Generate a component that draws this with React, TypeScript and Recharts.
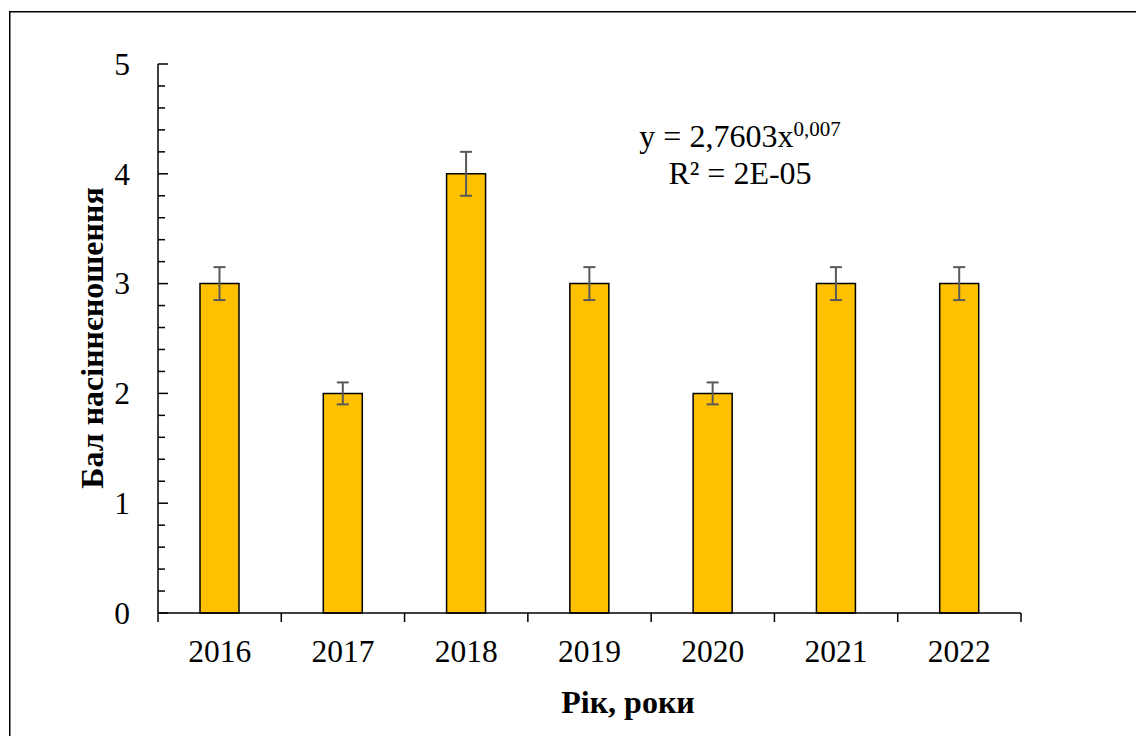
import React from 'react';
import { ComposedChart, Bar, XAxis, YAxis, ErrorBar } from 'recharts';

// Seed-bearing score by year, with ±error
const years = ['2016', '2017', '2018', '2019', '2020', '2021', '2022'];
const scores = [3, 2, 4, 3, 2, 3, 3];
const errors = [0.15, 0.1, 0.2, 0.15, 0.1, 0.15, 0.15];

// Y axis ticks: labelled integers plus minor marks every 0.2
const yMajorTicks = [0, 1, 2, 3, 4, 5];
const yAllTicks = [
  0, 0.2, 0.4, 0.6, 0.8, 1, 1.2, 1.4, 1.6, 1.8, 2, 2.2, 2.4, 2.6, 2.8, 3,
  3.2, 3.4, 3.6, 3.8, 4, 4.2, 4.4, 4.6, 4.8, 5,
];

// Power trend equation shown on the chart
const trendCoef = '2,7603';
const trendPower = '0,007';
const trendR2 = '2E-05';

const xTitle = 'Рік, роки';
const yTitle = 'Бал насіннєношення';

const data = years.map((year, i) => ({ year, score: scores[i], err: errors[i] }));

const FONT = "'Times New Roman', 'Liberation Serif', serif";
const FS_TICK = 31.5;
const FS_TEXT = 32;

const CHART_W = 1127;
const CHART_H = 725;
const M_TOP = 53;
const Y_AXIS_W = 149;
const M_RIGHT = 115;
const X_AXIS_H = 60;
const M_BOTTOM = 63;
const PLOT_W = CHART_W - Y_AXIS_W - M_RIGHT;
const BAND = PLOT_W / years.length;
const Y_LABEL_GAP = 28;

const YTick = (props: any) => {
  const { x, y, payload } = props;
  const axisX = x + Y_LABEL_GAP;
  const v = Math.round(payload.value * 10) / 10;
  const major = yMajorTicks.includes(v);
  return (
    <g>
      <line x1={axisX} x2={axisX + (major ? 10 : 7)} y1={y} y2={y} stroke="#000" strokeWidth={1.5} />
      {major && (
        <text x={x} y={y} dy="0.34em" textAnchor="end" fontFamily={FONT} fontSize={FS_TICK} fill="#000">
          {v}
        </text>
      )}
    </g>
  );
};

const XTick = (props: any) => {
  const { x, y, payload, index } = props;
  const left = x - BAND / 2;
  const right = x + BAND / 2;
  return (
    <g>
      <line x1={left} x2={left} y1={y} y2={y + 9} stroke="#000" strokeWidth={1.5} />
      {index === years.length - 1 && (
        <line x1={right} x2={right} y1={y} y2={y + 9} stroke="#000" strokeWidth={1.5} />
      )}
      <text x={x} y={y + 49} textAnchor="middle" fontFamily={FONT} fontSize={FS_TICK} fill="#000">
        {payload.value}
      </text>
    </g>
  );
};

export default function App() {
  return (
    <div style={{ position: 'absolute', left: 9, top: 11, width: CHART_W, height: CHART_H }}>
      <div style={{ position: 'absolute', left: 0, top: 0 }}>
        <ComposedChart
          width={CHART_W}
          height={CHART_H}
          data={data}
          margin={{ top: M_TOP, right: M_RIGHT, bottom: M_BOTTOM, left: 0 }}
        >
          <XAxis
            dataKey="year"
            height={X_AXIS_H}
            tickSize={0}
            tickMargin={0}
            tickLine={false}
            interval={0}
            axisLine={{ stroke: '#000', strokeWidth: 1.5 }}
            tick={<XTick />}
          />
          <XAxis
            xAxisId="top"
            dataKey="year"
            orientation="top"
            height={0}
            tick={false}
            tickLine={false}
            axisLine={{ stroke: '#000', strokeWidth: 1.5 }}
          />
          <YAxis
            domain={[0, 5]}
            ticks={yAllTicks}
            interval={0}
            width={Y_AXIS_W}
            tickSize={0}
            tickMargin={Y_LABEL_GAP}
            tickLine={false}
            axisLine={{ stroke: '#000', strokeWidth: 1.5 }}
            tick={<YTick />}
          />
          <YAxis
            yAxisId="right"
            orientation="right"
            domain={[0, 5]}
            width={0}
            tick={false}
            tickLine={false}
            axisLine={{ stroke: '#000', strokeWidth: 1.5 }}
          />
          <Bar
            dataKey="score"
            barSize={39}
            fill="#FFC000"
            stroke="#000"
            strokeWidth={1.5}
            isAnimationActive={false}
          >
            <ErrorBar dataKey="err" width={6} stroke="#595959" strokeWidth={2} />
          </Bar>
        </ComposedChart>
      </div>
      <svg
        width={CHART_W}
        height={CHART_H}
        style={{ position: 'absolute', left: 0, top: 0, pointerEvents: 'none' }}
      >
        <line x1={0.75} y1={0} x2={0.75} y2={CHART_H} stroke="#000" strokeWidth={1.5} />
        <line x1={0} y1={0.75} x2={CHART_W} y2={0.75} stroke="#000" strokeWidth={1.5} />
        <text x={740 - 9} y={147 - 11} textAnchor="middle" fontFamily={FONT} fontSize={FS_TEXT} fill="#000">
          y = {trendCoef}x
          <tspan fontSize={21} dy={-11}>{trendPower}</tspan>
        </text>
        <text x={740 - 9} y={184 - 11} textAnchor="middle" fontFamily={FONT} fontSize={FS_TEXT} fill="#000">
          R² = {trendR2}
        </text>
        <text
          x={628 - 9}
          y={713 - 11}
          textAnchor="middle"
          fontFamily={FONT}
          fontSize={FS_TEXT}
          fontWeight="bold"
          fill="#000"
        >
          {xTitle}
        </text>
        <text
          x={103 - 9}
          y={338 - 11}
          transform={`rotate(-90 ${103 - 9} ${338 - 11})`}
          textAnchor="middle"
          fontFamily={FONT}
          fontSize={FS_TEXT}
          fontWeight="bold"
          fill="#000"
        >
          {yTitle}
        </text>
      </svg>
    </div>
  );
}
